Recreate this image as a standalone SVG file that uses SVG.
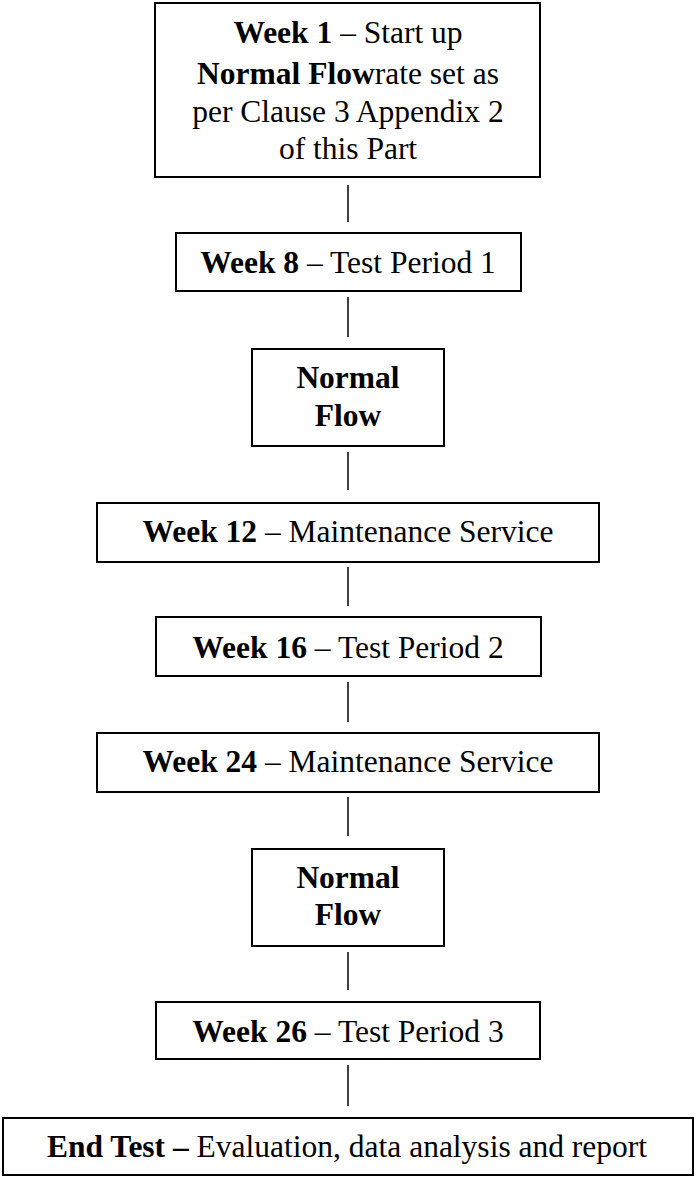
<svg xmlns="http://www.w3.org/2000/svg" width="694" height="1177" viewBox="0 0 694 1177">
<style>
.box{fill:#fff;stroke:#000;stroke-width:2}
.c{stroke:#000;stroke-width:1.5;fill:none}
text{font-family:"Liberation Serif","Times New Roman",serif;font-size:31.5px;fill:#000;text-anchor:middle}
.b{font-weight:bold}
</style>
<rect width="694" height="1177" fill="#fff"/>
<g id="connectors">
<line class="c" x1="348" y1="185" x2="348" y2="222"/>
<line class="c" x1="348" y1="297" x2="348" y2="337"/>
<line class="c" x1="348" y1="452" x2="348" y2="490"/>
<line class="c" x1="348" y1="567" x2="348" y2="606"/>
<line class="c" x1="348" y1="682" x2="348" y2="722"/>
<line class="c" x1="348" y1="797" x2="348" y2="836"/>
<line class="c" x1="348" y1="952" x2="348" y2="990"/>
<line class="c" x1="348" y1="1065" x2="348" y2="1106"/>
</g>
<g id="week1">
<rect class="box" x="155" y="3" width="385" height="174"/>
<text x="348" y="43"><tspan class="b">Week 1</tspan> – Start up</text>
<text x="348" y="84"><tspan class="b">Normal Flow</tspan>rate set as</text>
<text x="348" y="122">per Clause 3 Appendix 2</text>
<text x="348" y="159">of this Part</text>
</g>
<g id="week8">
<rect class="box" x="176" y="233" width="345" height="58"/>
<text x="348" y="273"><tspan class="b">Week 8</tspan> – Test Period 1</text>
</g>
<g id="normalflow1">
<rect class="box" x="252" y="349" width="192" height="97"/>
<text class="b" x="348" y="388">Normal</text>
<text class="b" x="348" y="426">Flow</text>
</g>
<g id="week12">
<rect class="box" x="97" y="503" width="502" height="59"/>
<text x="348" y="542"><tspan class="b">Week 12</tspan> – Maintenance Service</text>
</g>
<g id="week16">
<rect class="box" x="156" y="617" width="385" height="59"/>
<text x="348" y="658"><tspan class="b">Week 16</tspan> – Test Period 2</text>
</g>
<g id="week24">
<rect class="box" x="97" y="733" width="502" height="59"/>
<text x="348" y="772"><tspan class="b">Week 24</tspan> – Maintenance Service</text>
</g>
<g id="normalflow2">
<rect class="box" x="252" y="849" width="192" height="97"/>
<text class="b" x="348" y="888">Normal</text>
<text class="b" x="348" y="925">Flow</text>
</g>
<g id="week26">
<rect class="box" x="156" y="1002" width="384" height="57"/>
<text x="348" y="1042"><tspan class="b">Week 26</tspan> – Test Period 3</text>
</g>
<g id="endtest">
<rect class="box" x="3" y="1118" width="690" height="57"/>
<text x="347" y="1157"><tspan class="b">End Test –</tspan> Evaluation, data analysis and report</text>
</g>
</svg>
